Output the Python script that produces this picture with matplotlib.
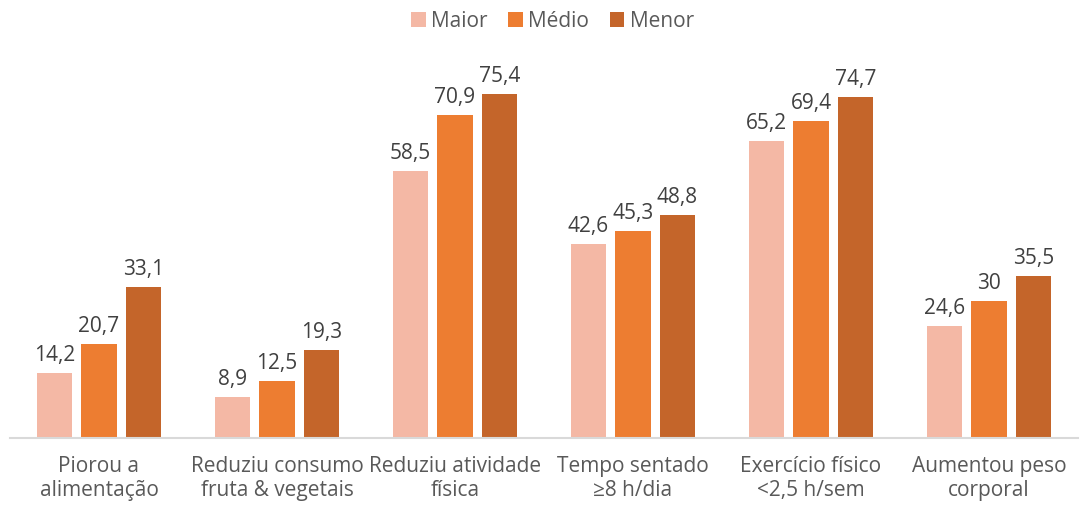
import matplotlib
matplotlib.use("Agg")
import matplotlib.pyplot as plt
import numpy as np

plt.rcParams['font.family'] = ['Open Sans', 'DejaVu Sans']

categorias = ["Piorou a\nalimentação", "Reduziu consumo\nfruta & vegetais", "Reduziu atividade\nfísica",
              "Tempo sentado\n≥8 h/dia", "Exercício físico\n<2,5 h/sem", "Aumentou peso\ncorporal"]
series = ["Maior", "Médio", "Menor"]
maior = [14.2, 8.9, 58.5, 42.6, 65.2, 24.6]
medio = [20.7, 12.5, 70.9, 45.3, 69.4, 30]
menor = [33.1, 19.3, 75.4, 48.8, 74.7, 35.5]

cores = ["#F4B8A5", "#ED7D31", "#C4652A"]
valores = [maior, medio, menor]

fig = plt.figure(figsize=(10.81, 5.26), dpi=100)
ax = fig.add_axes([10 / 1081, 88 / 526, 1068 / 1081, 365 / 526])

x = np.arange(len(categorias))
largura = 0.2
desloc = 0.25

for i, (nome, vals, cor) in enumerate(zip(series, valores, cores)):
    pos = x + (i - 1) * desloc
    barras = ax.bar(pos, vals, largura, color=cor, label=nome)
    for b, v in zip(barras, vals):
        txt = ("%g" % v).replace(".", ",")
        ax.annotate(txt, (b.get_x() + b.get_width() / 2, v), xytext=(0, 5),
                    textcoords="offset points", ha="center", va="bottom",
                    fontsize=15, color="#404040")

ax.set_xlim(-0.5, len(categorias) - 0.5)
ax.set_ylim(0, 80)
ax.set_xticks(x)
ax.set_xticklabels(categorias, fontsize=15, color="#595959", linespacing=1.2)
ax.tick_params(axis="x", length=0, pad=13)
ax.set_yticks([])
for s in ["top", "right", "left"]:
    ax.spines[s].set_visible(False)
ax.spines["bottom"].set_color("#D9D9D9")
ax.spines["bottom"].set_linewidth(1.5)

# legenda no topo
fig.legend(loc="upper center", bbox_to_anchor=(0.511, 1.015), ncol=3, frameon=False,
           fontsize=15, labelcolor="#595959", handlelength=0.7, handleheight=0.75,
           handletextpad=0.25, columnspacing=1.0)

fig.savefig("out.png", dpi=100)
